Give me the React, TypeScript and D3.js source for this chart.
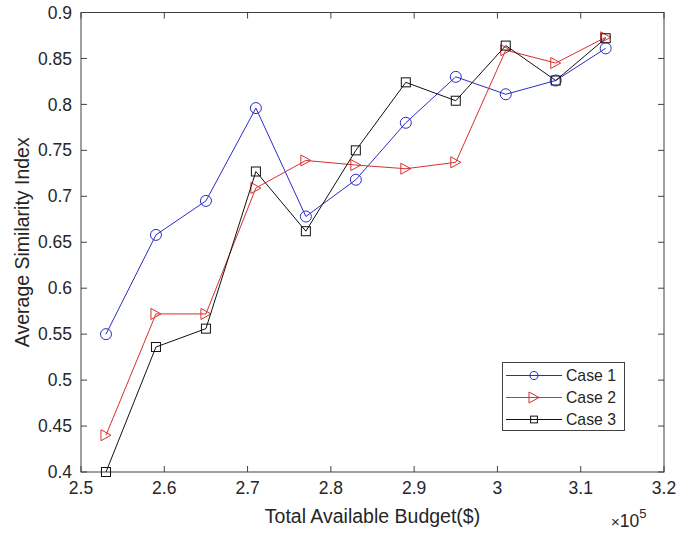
import React, { useRef, useEffect } from 'react';
import * as d3 from 'd3';

// budget values (x 1e5)
const budget = [2.53, 2.59, 2.65, 2.71, 2.77, 2.83, 2.89, 2.95, 3.01, 3.07, 3.13];
const case1 = [0.55, 0.658, 0.695, 0.796, 0.678, 0.718, 0.78, 0.83, 0.811, 0.826, 0.861];
const case2 = [0.44, 0.572, 0.572, 0.709, 0.739, 0.734, 0.73, 0.737, 0.859, 0.845, 0.873];
const case3 = [0.4, 0.536, 0.556, 0.727, 0.662, 0.75, 0.824, 0.804, 0.864, 0.826, 0.872];
const seriesNames = ['Case 1', 'Case 2', 'Case 3'];
const xTicks = [2.5, 2.6, 2.7, 2.8, 2.9, 3.0, 3.1, 3.2];
const yTicks = [0.4, 0.45, 0.5, 0.55, 0.6, 0.65, 0.7, 0.75, 0.8, 0.85, 0.9];

const FONT = 'Liberation Sans, Arial, Helvetica, sans-serif';
const AXIS = '#404040';
const TEXT = '#262626';

const App = () => {
  const ref = useRef<SVGSVGElement>(null);

  useEffect(() => {
    const svg = d3.select(ref.current);
    svg.selectAll('*').remove();
    const width = 677;
    const height = 533;
    const margin = { top: 12.5, right: 13, bottom: 61, left: 81 };

    const x = d3.scaleLinear().domain([2.5, 3.2]).range([margin.left, width - margin.right]);
    const y = d3.scaleLinear().domain([0.4, 0.9]).range([height - margin.bottom, margin.top]);

    svg.append('rect').attr('width', width).attr('height', height).attr('fill', '#fff');

    // axes box with inward ticks on all sides
    const tick = 6;
    const g = svg.append('g').attr('stroke', AXIS).attr('stroke-width', 1).attr('fill', 'none');
    g.append('rect')
      .attr('x', x(2.5))
      .attr('y', y(0.9))
      .attr('width', x(3.2) - x(2.5))
      .attr('height', y(0.4) - y(0.9));
    xTicks.forEach((t) => {
      g.append('line').attr('x1', x(t)).attr('x2', x(t)).attr('y1', y(0.4)).attr('y2', y(0.4) - tick);
      g.append('line').attr('x1', x(t)).attr('x2', x(t)).attr('y1', y(0.9)).attr('y2', y(0.9) + tick);
    });
    yTicks.forEach((t) => {
      g.append('line').attr('x1', x(2.5)).attr('x2', x(2.5) + tick).attr('y1', y(t)).attr('y2', y(t));
      g.append('line').attr('x1', x(3.2)).attr('x2', x(3.2) - tick).attr('y1', y(t)).attr('y2', y(t));
    });

    // tick labels
    svg.append('g')
      .selectAll('text')
      .data(xTicks)
      .join('text')
      .attr('x', (d) => x(d))
      .attr('y', y(0.4) + 22)
      .attr('text-anchor', 'middle')
      .attr('font-family', FONT)
      .attr('font-size', 17.5)
      .attr('fill', TEXT)
      .text((d) => d3.format('~g')(d));
    svg.append('g')
      .selectAll('text')
      .data(yTicks)
      .join('text')
      .attr('x', x(2.5) - 9)
      .attr('y', (d) => y(d))
      .attr('dy', '0.35em')
      .attr('text-anchor', 'end')
      .attr('font-family', FONT)
      .attr('font-size', 17.5)
      .attr('fill', TEXT)
      .text((d) => d3.format('~g')(d));

    // axis labels
    svg.append('text')
      .attr('x', (x(2.5) + x(3.2)) / 2)
      .attr('y', 523)
      .attr('text-anchor', 'middle')
      .attr('font-family', FONT)
      .attr('font-size', 19.5)
      .attr('fill', TEXT)
      .text('Total Available Budget($)');
    svg.append('text')
      .attr('transform', `translate(29,${(y(0.4) + y(0.9)) / 2}) rotate(-90)`)
      .attr('text-anchor', 'middle')
      .attr('font-family', FONT)
      .attr('font-size', 19.5)
      .attr('fill', TEXT)
      .text('Average Similarity Index');

    const exp = svg.append('text')
      .attr('x', 611)
      .attr('y', 527)
      .attr('font-family', FONT)
      .attr('font-size', 17.5)
      .attr('fill', TEXT);
    exp.append('tspan').text('\u00d7').attr('font-size', 15);
    exp.append('tspan').text('10');
    exp.append('tspan').text('5').attr('font-size', 13).attr('dy', -9);

    // marker drawing
    const drawMarker = (sel, kind, color, s) => {
      if (kind === 0) {
        sel.append('circle').attr('r', s * 0.55).attr('fill', 'none').attr('stroke', color);
      } else if (kind === 1) {
        const w = s;
        const h = s * 1.1;
        sel.append('path')
          .attr('d', `M${-w / 2},${-h / 2}L${w / 2},0L${-w / 2},${h / 2}Z`)
          .attr('fill', 'none')
          .attr('stroke', color);
      } else {
        sel.append('rect')
          .attr('x', -s * 0.45)
          .attr('y', -s * 0.45)
          .attr('width', s * 0.9)
          .attr('height', s * 0.9)
          .attr('fill', 'none')
          .attr('stroke', color);
      }
    };

    const series = [case1, case2, case3];
    const colors = ['#2b2bc8', '#d83030', '#111111'];
    const line = d3
      .line<number>()
      .x((d, i) => x(budget[i]))
      .y((d) => y(d));

    series.forEach((vals, k) => {
      svg.append('path')
        .attr('d', line(vals))
        .attr('fill', 'none')
        .attr('stroke', colors[k])
        .attr('stroke-width', 1);
      vals.forEach((v, i) => {
        const m = svg.append('g').attr('transform', `translate(${x(budget[i])},${y(v)})`);
        drawMarker(m, k, colors[k], 10);
      });
    });

    // legend
    const lg = svg.append('g');
    lg.append('rect')
      .attr('x', 502.5)
      .attr('y', 362.5)
      .attr('width', 122)
      .attr('height', 68)
      .attr('fill', '#fff')
      .attr('stroke', AXIS);
    const rows = [375.5, 397.5, 419.5];
    seriesNames.forEach((name, k) => {
      lg.append('line')
        .attr('x1', 506)
        .attr('x2', 562)
        .attr('y1', rows[k])
        .attr('y2', rows[k])
        .attr('stroke', colors[k]);
      const m = lg.append('g').attr('transform', `translate(534,${rows[k]})`);
      drawMarker(m, k, colors[k], k === 1 ? 10 : 7.5);
      lg.append('text')
        .attr('x', 566)
        .attr('y', rows[k])
        .attr('dy', '0.35em')
        .attr('font-family', FONT)
        .attr('font-size', 15.75)
        .attr('fill', TEXT)
        .text(name);
    });
  }, []);

  return (
    <svg
      ref={ref}
      width={677}
      height={533}
      style={{ position: 'absolute', left: 0, top: 0, display: 'block' }}
    />
  );
};

export default App;
